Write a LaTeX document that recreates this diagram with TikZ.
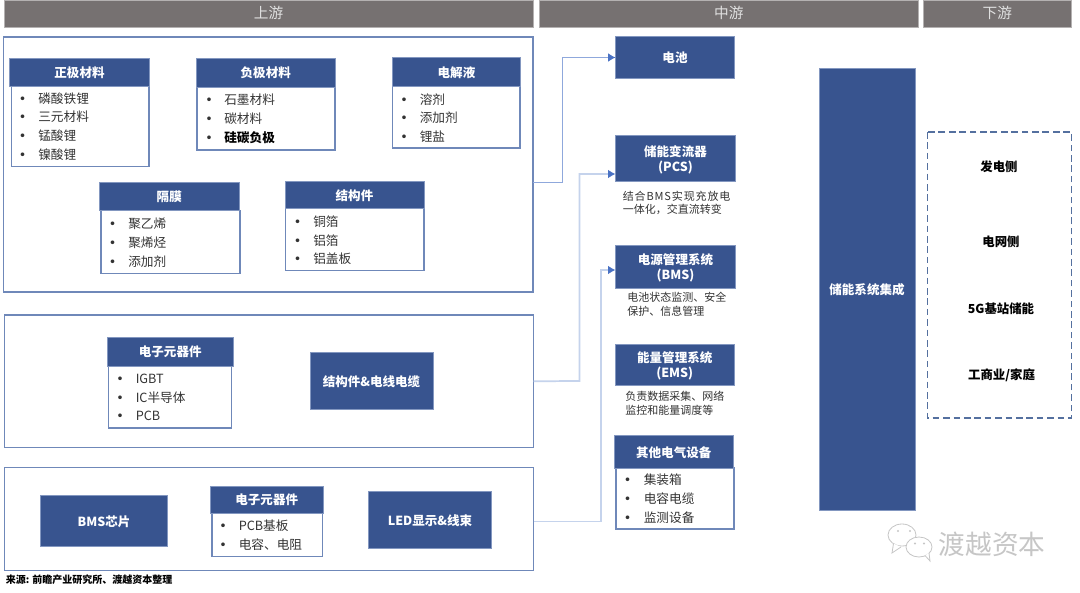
\documentclass[tikz,border=0pt]{standalone}
\usepackage{fontspec}
\setmainfont{Noto Sans CJK SC}
\newfontfamily\bulletfont{DejaVu Sans}
\usetikzlibrary{arrows.meta}
\definecolor{hdr}{HTML}{767171}
\definecolor{hdrline}{HTML}{B4B1B1}
\definecolor{navy}{HTML}{38548F}
\definecolor{navyline}{HTML}{8397C0}
\definecolor{frameblue}{HTML}{6F88B9}
\definecolor{dashblue}{HTML}{54709F}
\definecolor{inktext}{HTML}{333333}
\definecolor{connA}{HTML}{8FA8DC}
\definecolor{connB}{HTML}{C5D3EC}
\definecolor{tipblue}{HTML}{4A72C4}
\definecolor{wm}{HTML}{C6C6C6}
\tikzset{
  x=0.75pt,y=-0.75pt,
  box/.style={inner sep=0pt,outer sep=0pt,align=center},
  band/.style={box,fill=hdr,draw=hdrline,line width=0.6pt,text=white!88!black,font=\fontsize{11}{13}\selectfont},
  frame/.style={box,draw=frameblue,line width=1pt},
  listbody/.style={box,fill=white,draw=frameblue,line width=1pt},
  head/.style={box,fill=navy,draw=navyline,line width=0.5pt,text=white,font=\fontsize{9.4}{11}\selectfont\bfseries},
  listitem/.style={anchor=west,inner sep=0pt,yshift=-0.5pt,text=inktext,font=\fontsize{9.5}{11}\selectfont},
  note/.style={anchor=west,inner sep=0pt,yshift=-0.4pt,align=left,text=inktext,font=\fontsize{8.25}{10.3}\selectfont},
  sidelabel/.style={inner sep=0pt,text=black,font=\fontsize{9.3}{11}\selectfont\bfseries},
  connA/.style={draw=connA,line width=0.8pt,-{Latex[length=5.5pt,width=6.5pt,color=tipblue]}},
  connB/.style={draw=connB,line width=1.3pt,-{Latex[length=5.5pt,width=6.5pt,color=tipblue]}},
  bubble/.style={draw=wm,line width=0.6pt,fill=white},
}
% name, x1, y1, x2, y2, style, text
\newcommand\bx[7]{%
  \pgfmathsetmacro\bxw{(#4-#2)*0.75}%
  \pgfmathsetmacro\bxh{(#5-#3)*0.75}%
  \node[#6,minimum width=\bxw pt,minimum height=\bxh pt] (#1) at ({(#2+#4)/2},{(#3+#5)/2}) {\raisebox{-3.8pt}[0pt][0pt]{\begin{tabular}{@{}c@{}}#7\end{tabular}}};}
\newcommand\ebx[6]{%
  \pgfmathsetmacro\bxw{(#4-#2)*0.75}%
  \pgfmathsetmacro\bxh{(#5-#3)*0.75}%
  \node[#6,minimum width=\bxw pt,minimum height=\bxh pt] (#1) at ({(#2+#4)/2},{(#3+#5)/2}) {};}
% name, bullet x, text x, y, text
\newcommand\li[5]{%
  \pgfmathsetmacro\liw{(#3-#2)*0.75}%
  \node[listitem] (#1) at (#2,#4) {\makebox[\liw pt][l]{\bulletfont •}#5};}
\begin{document}
\begin{tikzpicture}
\useasboundingbox (0,0) rectangle (1080,592);
\fill[white] (0,0) rectangle (1080,592);
% bands
\bx{bandU}{4}{0}{533}{27.5}{band}{上游}
\bx{bandM}{539.5}{0}{918}{27.5}{band}{中游}
\bx{bandD}{923.5}{0}{1071}{27.5}{band}{下游}
% frames
\ebx{up}{3.5}{37}{533}{292}{frame}
\ebx{mid}{4.5}{315}{533.5}{447.5}{frame}
\ebx{low}{4.5}{467.5}{533.5}{570.5}{frame}
% cathode
\ebx{zjB}{11.5}{86.5}{149}{166.5}{listbody}
\bx{zj}{9.5}{58.5}{149.5}{86.5}{head}{正极材料}
\li{zj1}{18.7}{38}{98}{磷酸铁锂}
\li{zj2}{18.7}{38}{116.5}{三元材料}
\li{zj3}{18.7}{38}{135.5}{锰酸锂}
\li{zj4}{18.7}{38}{154.5}{镍酸锂}
% anode
\ebx{fjB}{197}{87}{335}{150}{listbody}
\bx{fj}{196}{58.5}{335.5}{87}{head}{负极材料}
\li{fj1}{205}{224}{99.5}{石墨材料}
\li{fj2}{205}{224}{118.5}{碳材料}
\li{fj3}{205}{224}{137.5}{\bfseries\color{black}硅碳负极}
% electrolyte
\ebx{djB}{392.5}{86}{520}{148}{listbody}
\bx{dj}{392.5}{57.5}{520.5}{86}{head}{电解液}
\li{dj1}{400}{419.5}{98.5}{溶剂}
\li{dj2}{400}{419.5}{117}{添加剂}
\li{dj3}{400}{419.5}{136}{锂盐}
% separator
\ebx{gmB}{101}{210.5}{240}{273.5}{listbody}
\bx{gm}{99}{182.5}{239.5}{210.5}{head}{隔膜}
\li{gm1}{108.5}{128}{223.5}{聚乙烯}
\li{gm2}{108.5}{128}{242.5}{聚烯烃}
\li{gm3}{108.5}{128}{261.5}{添加剂}
% structure
\ebx{jgB}{285.5}{208.5}{424}{270.5}{listbody}
\bx{jg}{285}{181}{424}{208.5}{head}{结构件}
\li{jg1}{293.5}{313}{220.5}{铜箔}
\li{jg2}{293.5}{313}{239.5}{铝箔}
\li{jg3}{293.5}{313}{258.5}{铝盖板}
% electronics 1
\ebx{e1B}{108.5}{366}{231.5}{428}{listbody}
\bx{e1}{107.5}{337.5}{233}{366}{head}{电子元器件}
\li{e11}{116}{135.5}{378}{IGBT}
\li{e12}{116}{135.5}{397}{IC半导体}
\li{e13}{116}{135.5}{415.5}{PCB}
\bx{jx}{310}{352.5}{433}{409.5}{head}{结构件\&电线电缆}
% lower frame
\bx{bms}{40.5}{495.5}{167.5}{546.5}{head}{BMS芯片}
\ebx{e2B}{212}{513.5}{322.5}{556.5}{listbody}
\bx{e2}{210.5}{486}{323}{513.5}{head}{电子元器件}
\li{e21}{219}{238.5}{525}{PCB基板}
\li{e22}{219}{238.5}{544}{电容、电阻}
\bx{led}{368.5}{491.5}{491.5}{548.5}{head}{LED显示\&线束}
% midstream
\bx{bat}{615.5}{36.5}{734.5}{78.5}{head}{电池}
\bx{pcs}{615.5}{135.5}{735.5}{181.5}{head}{储能变流器\\(PCS)}
\node[note] (pcsN) at (622.5,202.5) {{\addfontfeature{LetterSpace=8}结合BMS实现充放电}\\一体化，交直流转变};
\bx{bmsS}{615.5}{245}{735.5}{288}{head}{电源管理系统\\(BMS)}
\node[note] (bmsN) at (627,304) {电池状态监测、安全\\保护、信息管理};
\bx{ems}{615}{344.5}{734.5}{385.5}{head}{能量管理系统\\(EMS)}
\node[note] (emsN) at (625,402.5) {负责数据采集、网络\\监控和能量调度等};
\ebx{othB}{616}{468}{734}{529}{listbody}
\bx{oth}{614}{435.5}{733.5}{468}{head}{其他电气设备}
\li{oth1}{623.5}{643.5}{479}{集装箱}
\li{oth2}{623.5}{643.5}{498}{电容电缆}
\li{oth3}{623.5}{643.5}{517}{监测设备}
\bx{sys}{819}{68.5}{915}{510}{head}{储能系统集成}
% downstream
\draw[draw=dashblue,line width=1.4pt,dash pattern=on 5pt off 2.8pt] (927.5,132) rectangle (1071.5,418);
\node[sidelabel] (d1) at (999,167) {发电侧};
\node[sidelabel] (d2) at (1001,242) {电网侧};
\node[sidelabel] (d3) at (1001,308.5) {5G基站储能};
\node[sidelabel] (d4) at (1001.5,375.5) {工商业/家庭};
% connectors
\coordinate (upOut) at (up.east |- 0,182.5);
\coordinate (lowOut) at (low.east |- 0,521.5);
\coordinate (pcsIn) at (pcs.west |- 0,174);
\coordinate (bmsIn) at (bmsS.west |- 0,270);
\draw[connA] (upOut) -- (562.5,182.5) |- (bat.west);
\draw[connB] (mid.east) -- (579.5,381) |- (pcsIn);
\draw[connB] (lowOut) -- (601,521.5) |- (bmsIn);
% source
\node[anchor=west,inner sep=0pt,text=black,font=\fontsize{7.5}{9}\selectfont\bfseries] (src) at (5.5,579.5) {来源: 前瞻产业研究所、渡越资本整理};
% watermark
\draw[bubble] (902,535) ellipse [x radius=14,y radius=11];
\draw[bubble] (893.5,543.5) -- (892,553) -- (901,547);
\draw[bubble] (919,547) ellipse [x radius=13,y radius=10];
\draw[bubble] (925,555.5) -- (930,561) -- (929,553);
\fill[wm] (898,531) circle [radius=1.2] (910,531) circle [radius=1.2] (915,543.5) circle [radius=1.1] (924,543.5) circle [radius=1.1];
\node[inner sep=0pt,text=wm,font=\fontsize{20}{22}\selectfont] (wmT) at (992,544) {渡越资本};
\end{tikzpicture}
\end{document}
